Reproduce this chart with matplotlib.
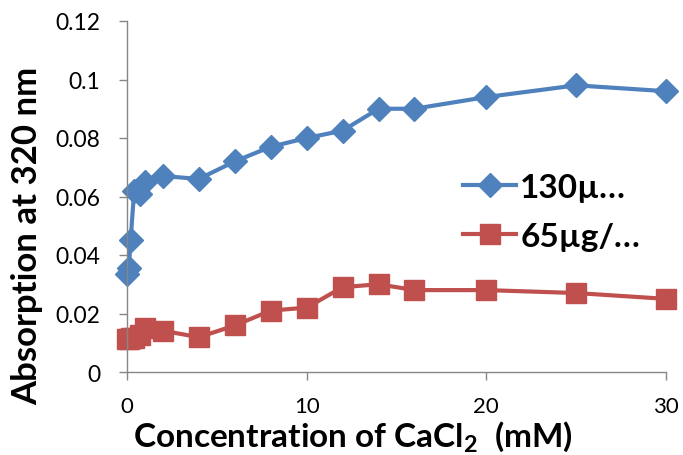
import matplotlib
matplotlib.use("Agg")
import matplotlib.pyplot as plt
from matplotlib.ticker import FuncFormatter

plt.rcParams['font.family'] = ['Lato', 'DejaVu Sans']
plt.rcParams['mathtext.fontset'] = 'custom'
plt.rcParams['mathtext.rm'] = 'Lato'
plt.rcParams['mathtext.bf'] = 'Lato:bold'

# CaCl2 concentration (mM)
conc = [0, 0.1, 0.2, 0.4, 0.7, 1, 2, 4, 6, 8, 10, 12, 14, 16, 20, 25, 30]
# absorption at 320 nm
abs_130 = [0.0335, 0.0355, 0.045, 0.062, 0.061, 0.065, 0.067, 0.066, 0.072,
           0.077, 0.080, 0.0825, 0.090, 0.090, 0.094, 0.098, 0.096]
abs_65 = [0.0112, 0.0112, 0.0115, 0.0117, 0.0125, 0.015, 0.0141, 0.0119, 0.0159,
          0.021, 0.022, 0.029, 0.030, 0.028, 0.028, 0.027, 0.025]
series_labels = ["130\u00b5\u2026", "65\u00b5g/\u2026"]

x_ticks = [0, 10, 20, 30]
y_ticks = [0, 0.02, 0.04, 0.06, 0.08, 0.1, 0.12]

W, H = 683, 456
fig = plt.figure(figsize=(W / 100, H / 100), dpi=100)
ax = fig.add_axes([127 / W, 1 - 373 / H, (666 - 127) / W, (373 - 22) / H])

ax.plot(conc, abs_130, color='#4F81BD', lw=3, marker='D', markersize=12,
        label=series_labels[0])
ax.plot(conc, abs_65, color='#C0504D', lw=3, marker='s', markersize=14,
        label=series_labels[1])

ax.set_xlim(0, 30)
ax.set_ylim(0, 0.12)
ax.set_xticks(x_ticks)
ax.set_yticks(y_ticks)
ax.yaxis.set_major_formatter(FuncFormatter(lambda v, p: '%g' % v))
ax.tick_params(axis='y', direction='out', length=6, width=1, color='#868686',
               labelsize=16.5, pad=13)
ax.tick_params(axis='x', direction='out', length=6, width=1, color='#868686',
               labelsize=16, pad=11)
for side in ['top', 'right']:
    ax.spines[side].set_visible(False)
for side in ['left', 'bottom']:
    ax.spines[side].set_color('#868686')
    ax.spines[side].set_linewidth(1)
for line in ax.get_lines():
    line.set_clip_on(False)

fig.text(27 / W, 1 - 236 / H, 'Absorption at 320 nm', rotation=90,
         fontsize=25, fontweight='bold', ha='center', va='center')
fig.text(353 / W, 1 - 447 / H, r'Concentration of CaCl$_{\mathbf{2}}$  (mM)',
         fontsize=24, fontweight='bold', ha='center', va='baseline')

leg = ax.legend(loc='center left', bbox_to_anchor=(463 / W, 1 - 213 / H),
                bbox_transform=fig.transFigure, frameon=False,
                prop={'weight': 'bold', 'size': 24}, handlelength=1.6,
                handletextpad=0.12, labelspacing=0.6, borderpad=0,
                borderaxespad=0)

fig.savefig('out.png', dpi=100)
